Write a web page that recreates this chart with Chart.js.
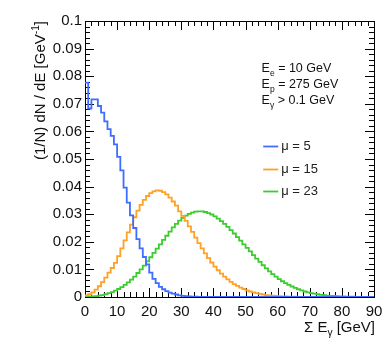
<!DOCTYPE html>
<html>
<head>
<meta charset="utf-8">
<script src="https://cdn.jsdelivr.net/npm/chart.js@4.4.0/dist/chart.umd.min.js"></script>
<style>
  html, body { margin: 0; padding: 0; background: #fff; }
</style>
</head>
<body>
<canvas id="c" width="390" height="344"></canvas>
<script>
(function () {
    'use strict';

    // histogram contents, 1 GeV bins from 0 to 90 GeV
    var binWidth = 1;
    var seriesLabels = ['\u03bc = 5', '\u03bc = 15', '\u03bc = 23'];
    var seriesColors = ['#3f6dff', '#ffa126', '#3ccc2f'];

    var mu5 = [
        0.0777, 0.0683, 0.0716, 0.0716, 0.0692, 0.0668, 0.0636, 0.0608, 0.0584, 0.0553,
        0.0508, 0.0459, 0.0396, 0.0342, 0.0296, 0.0250, 0.0210, 0.0176, 0.0145, 0.0118,
        0.0088, 0.0066, 0.0050, 0.0037, 0.0028, 0.0021, 0.0016, 0.0012, 0.0009, 0.0006,
        0.0004, 0.0003, 0.0002, 0.0001, 0.0001, 0, 0, 0, 0, 0,
        0, 0, 0, 0, 0, 0, 0, 0, 0, 0,
        0, 0, 0, 0, 0, 0, 0, 0, 0, 0,
        0, 0, 0, 0, 0, 0, 0, 0, 0, 0,
        0, 0, 0, 0, 0, 0, 0, 0, 0, 0,
        0, 0, 0, 0, 0, 0, 0, 0, 0, 0
    ];
    var mu15 = [
        0.0006, 0.0010, 0.0017, 0.0027, 0.0039, 0.0054, 0.0070, 0.0088, 0.0105, 0.0124,
        0.0148, 0.0176, 0.0205, 0.0234, 0.0262, 0.0289, 0.0313, 0.0334, 0.0352, 0.0366,
        0.0376, 0.0383, 0.0386, 0.0385, 0.0380, 0.0372, 0.0360, 0.0346, 0.0331, 0.0310,
        0.0294, 0.0276, 0.0256, 0.0236, 0.0215, 0.0195, 0.0176, 0.0158, 0.0141, 0.0125,
        0.0110, 0.0097, 0.0085, 0.0074, 0.0064, 0.0055, 0.0047, 0.0040, 0.0034, 0.0029,
        0.0024, 0.0020, 0.0017, 0.0014, 0.0011, 0.0009, 0.0007, 0.0006, 0.0005, 0.0004,
        0.0003, 0.0002, 0.0002, 0.0001, 0.0001, 0.0001, 0, 0, 0, 0,
        0, 0, 0, 0, 0, 0, 0, 0, 0, 0,
        0, 0, 0, 0, 0, 0, 0, 0, 0, 0
    ];
    var mu23 = [
        0.0000, 0.0001, 0.0002, 0.0003, 0.0005, 0.0007, 0.0010, 0.0014, 0.0018, 0.0023,
        0.0029, 0.0036, 0.0044, 0.0053, 0.0063, 0.0074, 0.0087, 0.0100, 0.0114, 0.0129,
        0.0144, 0.0160, 0.0175, 0.0191, 0.0207, 0.0222, 0.0237, 0.0252, 0.0265, 0.0277,
        0.0287, 0.0295, 0.0301, 0.0306, 0.0309, 0.0310, 0.0310, 0.0308, 0.0304, 0.0299,
        0.0292, 0.0284, 0.0275, 0.0265, 0.0254, 0.0242, 0.0230, 0.0217, 0.0204, 0.0191,
        0.0178, 0.0165, 0.0152, 0.0139, 0.0127, 0.0115, 0.0104, 0.0093, 0.0083, 0.0074,
        0.0065, 0.0057, 0.0050, 0.0044, 0.0038, 0.0033, 0.0028, 0.0024, 0.0020, 0.0017,
        0.0014, 0.0012, 0.0010, 0.0008, 0.0007, 0.0005, 0.0004, 0.0004, 0.0003, 0.0002,
        0.0002, 0.0001, 0.0001, 0.0001, 0, 0, 0, 0, 0, 0
    ];
    var allSeries = [mu5, mu15, mu23];

    var xTickLabels = ['0', '10', '20', '30', '40', '50', '60', '70', '80', '90'];
    var yTickLabels = ['0', '0.01', '0.02', '0.03', '0.04', '0.05', '0.06', '0.07', '0.08', '0.09', '0.1'];
    var infoLines = [['E', 'e', ' = 10 GeV'], ['E', 'p', ' = 275 GeV'], ['E', '\u03b3', ' > 0.1 GeV']];

    var FONT = '"Liberation Sans", Arial, Helvetica, sans-serif';

    function histPoints(arr) {
        var pts = arr.map(function (v, i) {
            return { x: i * binWidth, y: v };
        });
        pts.push({ x: arr.length * binWidth, y: arr[arr.length - 1] });
        return pts;
    }

    // draw a list of [text, mode] pieces, mode: 0 normal, 1 sub, 2 sup
    function drawPieces(ctx, pieces, x, y, size) {
        var cx = x;
        pieces.forEach(function (p) {
            var s = p[1] ? size * 0.68 : size;
            var dy = p[1] === 1 ? size * 0.28 : (p[1] === 2 ? -size * 0.42 : 0);
            ctx.font = s + 'px ' + FONT;
            ctx.fillText(p[0], cx, y + dy);
            cx += ctx.measureText(p[0]).width;
        });
        return cx - x;
    }
    function piecesWidth(ctx, pieces, size) {
        var w = 0;
        pieces.forEach(function (p) {
            ctx.font = (p[1] ? size * 0.68 : size) + 'px ' + FONT;
            w += ctx.measureText(p[0]).width;
        });
        return w;
    }

    var framePlugin = {
        id: 'frame',
        // frame and tick marks go under the histograms
        beforeDatasetsDraw: function (chart) {
            var ctx = chart.ctx;
            var a = chart.chartArea;
            var xs = chart.scales.x;
            var ys = chart.scales.y;
            ctx.save();
            ctx.strokeStyle = '#000';
            ctx.lineWidth = 1;
            ctx.strokeRect(Math.round(a.left) + 0.5, Math.round(a.top) + 0.5,
                Math.round(a.right - a.left), Math.round(a.bottom - a.top));

            ctx.beginPath();
            var v, px, len, k;
            for (k = 0; k <= 45; k++) {
                v = k * 2;
                px = Math.round(xs.getPixelForValue(v)) + 0.5;
                len = v % 10 === 0 ? 9 : 5;
                ctx.moveTo(px, a.bottom);
                ctx.lineTo(px, a.bottom - len);
                ctx.moveTo(px, a.top);
                ctx.lineTo(px, a.top + len);
            }
            for (k = 0; k <= 50; k++) {
                v = k * 0.002;
                px = Math.round(ys.getPixelForValue(v)) + 0.5;
                len = k % 5 === 0 ? 9 : 5;
                ctx.moveTo(a.left, px);
                ctx.lineTo(a.left + len, px);
                ctx.moveTo(a.right, px);
                ctx.lineTo(a.right - len, px);
            }
            ctx.stroke();
            ctx.restore();
        },
        afterDraw: function (chart) {
            var ctx = chart.ctx;
            var a = chart.chartArea;
            var xs = chart.scales.x;
            var ys = chart.scales.y;
            ctx.save();

            // axis titles
            ctx.fillStyle = '#111';
            ctx.textBaseline = 'alphabetic';
            ctx.textAlign = 'left';
            var xt = [['\u03a3 E', 0], ['\u03b3', 1], [' [GeV]', 0]];
            var w = piecesWidth(ctx, xt, 15);
            drawPieces(ctx, xt, a.right + 1 - w, 332, 15);

            var yt = [['(1/N) dN / dE [GeV', 0], ['-1', 2], [']', 0]];
            w = piecesWidth(ctx, yt, 15);
            ctx.save();
            ctx.translate(45, a.top);
            ctx.rotate(-Math.PI / 2);
            drawPieces(ctx, yt, -w, 0, 15);
            ctx.restore();

            // info text
            var ix = xs.getPixelForValue(55);
            infoLines.forEach(function (l, i) {
                drawPieces(ctx, [[l[0], 0], [l[1], 1], [l[2], 0]], ix, 72 + i * 16, 12.5);
            });

            // legend
            var lx = xs.getPixelForValue(55.5);
            chart.data.datasets.forEach(function (ds, i) {
                var ly = Math.round(ys.getPixelForValue(0.0546 - i * 0.0081)) + 0.5;
                ctx.strokeStyle = ds.borderColor;
                ctx.lineWidth = 1.8;
                ctx.beginPath();
                ctx.moveTo(lx, ly);
                ctx.lineTo(lx + 15, ly);
                ctx.stroke();
                ctx.fillStyle = '#222';
                ctx.font = '13px ' + FONT;
                ctx.textBaseline = 'middle';
                ctx.fillText(ds.label, lx + 18, ly);
            });
            ctx.restore();
        }
    };

    new Chart(document.getElementById('c'), {
        type: 'line',
        data: {
            datasets: allSeries.map(function (s, i) {
                return {
                    label: seriesLabels[i],
                    data: histPoints(s),
                    borderColor: seriesColors[i],
                    backgroundColor: 'transparent',
                    borderWidth: 1.8,
                    pointRadius: 0,
                    // horizontal at the bin's own value, then the vertical step
                    stepped: 'before',
                    fill: false
                };
            })
        },
        options: {
            responsive: false,
            animation: false,
            layout: { padding: { top: 21, right: 16, left: 0, bottom: 0 } },
            plugins: {
                legend: { display: false },
                tooltip: { enabled: false }
            },
            scales: {
                x: {
                    type: 'linear',
                    min: 0,
                    max: 90,
                    grid: { display: false, drawTicks: false },
                    border: { display: false },
                    ticks: {
                        stepSize: 10,
                        padding: 6,
                        maxRotation: 0,
                        color: '#111',
                        font: { family: FONT, size: 15 },
                        callback: function (v, i) {
                            return xTickLabels[i];
                        }
                    },
                    afterFit: function (s) {
                        s.height = 47;
                    }
                },
                y: {
                    min: 0,
                    max: 0.1,
                    grid: { display: false, drawTicks: false },
                    border: { display: false },
                    ticks: {
                        stepSize: 0.01,
                        padding: 3,
                        color: '#111',
                        font: { family: FONT, size: 15 },
                        callback: function (v, i) {
                            return yTickLabels[i];
                        }
                    },
                    afterFit: function (s) {
                        s.width = 85;
                    }
                }
            }
        },
        plugins: [framePlugin]
    });
})();
</script>
</body>
</html>
